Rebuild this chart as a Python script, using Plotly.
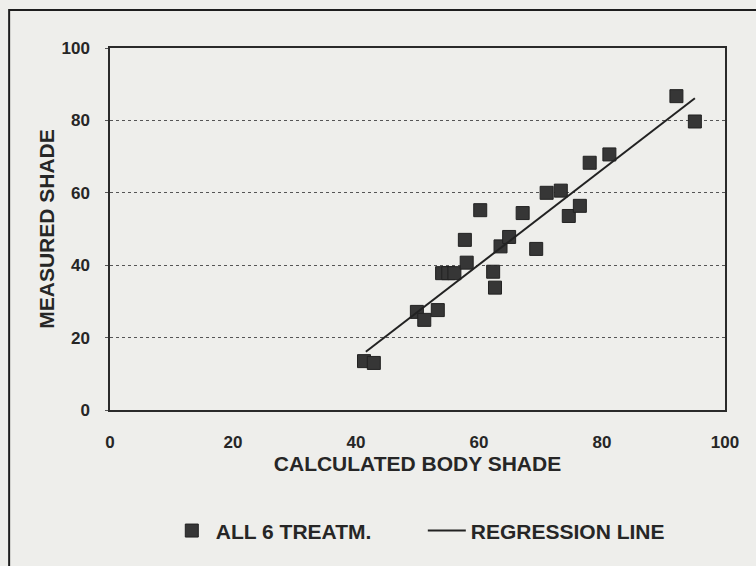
import plotly.graph_objects as go

# Calculated vs measured body shade, all 6 treatments
calc_shade = [41.3, 42.9, 49.9, 51.1, 53.3, 54.0, 55.0, 56.0, 58.0, 57.7,
              60.2, 62.3, 62.6, 63.5, 64.9, 67.1, 69.3, 71.0, 73.3, 74.6,
              76.4, 78.0, 81.2, 92.1, 95.1]
measured_shade = [13.5, 13.0, 27.1, 24.9, 27.6, 37.8, 37.8, 37.8, 40.7, 47.0,
                  55.2, 38.2, 33.8, 45.2, 47.8, 54.4, 44.5, 60.0, 60.6, 53.6,
                  56.4, 68.3, 70.6, 86.7, 79.7]

# regression line end points
reg_x = [41.6, 95.1]
reg_y = [16.1, 86.1]

tick_vals = [0, 20, 40, 60, 80, 100]

FONT = "Liberation Sans, Arial, sans-serif"
INK = "#262626"
BG = "#eeeeeb"

fig = go.Figure()

fig.add_trace(go.Scatter(
    name="ALL 6 TREATM.",
    x=calc_shade,
    y=measured_shade,
    mode="markers",
    marker=dict(symbol="square", size=13, color="#363636",
                line=dict(color="#222222", width=1)),
))

fig.add_trace(go.Scatter(
    name="REGRESSION LINE",
    x=reg_x,
    y=reg_y,
    mode="lines",
    line=dict(color="#222222", width=2),
))

fig.update_layout(
    width=756,
    height=566,
    margin=dict(l=110, r=31, t=48, b=156),
    paper_bgcolor=BG,
    plot_bgcolor=BG,
    font=dict(family=FONT, color=INK, size=17, weight="bold"),
    legend=dict(
        orientation="h",
        x=0.094, xanchor="left",
        y=-0.334, yanchor="middle",
        itemwidth=38,
        entrywidth=202, entrywidthmode="pixels",
        font=dict(size=21, weight="bold"),
        bgcolor="rgba(0,0,0,0)",
    ),
    shapes=[dict(
        type="rect", xref="paper", yref="paper",
        x0=-0.164, x1=1.06, y0=-0.45, y1=1.105,
        line=dict(color="#1e1e1e", width=2),
    )],
)

fig.update_xaxes(
    range=[0, 100],
    tickvals=tick_vals,
    showgrid=False,
    zeroline=False,
    showline=True, mirror=True, linecolor="#2a2a2a", linewidth=1.5,
    ticks="", ticklabelstandoff=16,
    tickfont=dict(size=17, weight="bold"),
    title=dict(text="CALCULATED BODY SHADE", standoff=5,
               font=dict(size=21, weight="bold")),
)

fig.update_yaxes(
    range=[0, 100],
    tickvals=tick_vals,
    showgrid=True, gridcolor="#555555", gridwidth=1, griddash="dot",
    zeroline=False,
    showline=True, mirror=True, linecolor="#2a2a2a", linewidth=1.5,
    ticks="outside", ticklen=3, tickcolor="#555555",
    ticklabelstandoff=12,
    tickfont=dict(size=17, weight="bold"),
    title=dict(text="MEASURED SHADE", standoff=1,
               font=dict(size=21, weight="bold")),
)

# page body has an 8px default margin; drop it so the figure sits at 0,0
fig.write_html(
    "out.html",
    config={"displayModeBar": False},
    post_script="document.body.style.margin='0';"
                "document.body.style.background='#eeeeeb';",
)
